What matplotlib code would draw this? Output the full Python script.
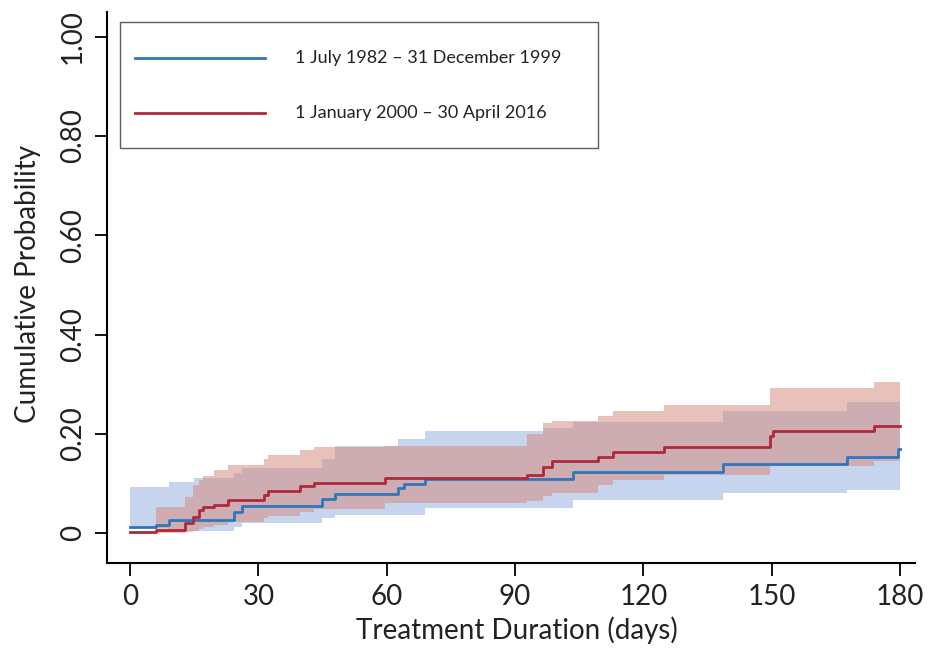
import numpy as np
import matplotlib
matplotlib.use("Agg")
import matplotlib.pyplot as plt
from matplotlib.lines import Line2D
from matplotlib.legend_handler import HandlerLine2D

plt.rcParams['font.family'] = ['Lato', 'DejaVu Sans']

# --- données ---
# période 1 : 1 July 1982 - 31 December 1999
blue_t = [0, 6, 9, 24.2, 26.1, 44.8, 47.9, 62.7, 64, 69, 103.6, 138.6, 167.5, 179.5, 180]
blue_y = [0.012, 0.016, 0.026, 0.043, 0.054, 0.068, 0.079, 0.09, 0.099, 0.109, 0.122, 0.139, 0.154, 0.169, 0.169]
blue_ci_t = [0, 9, 15, 24.2, 26.1, 44.8, 47.9, 62.7, 69, 96.6, 103.6, 138.6, 167.5, 180]
blue_lo = [0.011, 0.004, 0.005, 0.012, 0.02, 0.03, 0.036, 0.036, 0.05, 0.05, 0.067, 0.08, 0.087, 0.087]
blue_hi = [0.093, 0.103, 0.11, 0.12, 0.13, 0.15, 0.176, 0.19, 0.206, 0.212, 0.224, 0.245, 0.263, 0.263]

# période 2 : 1 January 2000 - 30 April 2016
red_t = [0, 6.1, 12.9, 14.8, 16.0, 17.1, 19.5, 23.0, 31.2, 32.3, 39.7, 42.9, 59.6, 92.7, 96.6,
         98.6, 109.5, 112.8, 124.9, 149.6, 150.4, 173.8, 180]
red_y = [0.002, 0.007, 0.020, 0.033, 0.046, 0.052, 0.056, 0.067, 0.077, 0.085, 0.095, 0.101, 0.110,
         0.117, 0.132, 0.146, 0.154, 0.164, 0.174, 0.196, 0.206, 0.216, 0.216]
red_ci_t = [6.1, 12.9, 14.8, 16.0, 17.1, 19.5, 23.0, 31.2, 32.3, 39.7, 42.9, 59.6, 92.7, 96.6,
            98.6, 109.5, 112.8, 124.9, 149.6, 173.8, 180]
red_lo = [0.0, 0.001, 0.004, 0.008, 0.012, 0.016, 0.022, 0.03, 0.035, 0.042, 0.048, 0.06, 0.065,
          0.075, 0.08, 0.097, 0.107, 0.117, 0.135, 0.145, 0.145]
red_hi = [0.053, 0.072, 0.097, 0.107, 0.114, 0.127, 0.137, 0.15, 0.157, 0.167, 0.174, 0.176, 0.2,
          0.221, 0.225, 0.235, 0.245, 0.258, 0.292, 0.305, 0.305]

labels = ["1 July 1982 \u2013 31 December 1999", "1 January 2000 \u2013 30 April 2016"]
x_ticks = [0, 30, 60, 90, 120, 150, 180]
y_ticks = [0, 0.2, 0.4, 0.6, 0.8, 1.0]
y_ticklabels = ["0", "0.20", "0.40", "0.60", "0.80", "1.00"]

c_blue = '#2f76bd'
c_red = '#b0283c'
txt = '#222222'


class LowerLine(HandlerLine2D):
    # descend un peu le trait de légende pour l'aligner sur le texte
    def create_artists(self, legend, orig_handle, xdescent, ydescent, width, height, fontsize, trans):
        artists = super().create_artists(legend, orig_handle, xdescent, ydescent,
                                         width, height, fontsize, trans)
        for a in artists:
            a.set_ydata(np.asarray(a.get_ydata()) - 0.44 * fontsize)
        return artists


fig = plt.figure(figsize=(9.29, 6.49), dpi=100)
ax = fig.add_axes([107/929, 86/649, 808/929, 551/649])

ax.fill_between(blue_ci_t, blue_lo, blue_hi, step='post', color='#91abdd', alpha=0.5, lw=0)
ax.fill_between(red_ci_t, red_lo, red_hi, step='post', color='#d38777', alpha=0.5, lw=0)
ax.step(blue_t, blue_y, where='post', color=c_blue, lw=2.0)
ax.step(red_t, red_y, where='post', color=c_red, lw=2.0)

ax.set_xlim(-5.4, 183.5)
ax.set_ylim(-0.0605, 1.05)
ax.spines['top'].set_visible(False)
ax.spines['right'].set_visible(False)
ax.spines['left'].set_linewidth(1.5)
ax.spines['bottom'].set_linewidth(1.5)

ax.set_xticks(x_ticks)
ax.set_xticklabels([str(v) for v in x_ticks])
ax.set_yticks(y_ticks)
ax.set_yticklabels(y_ticklabels, rotation=90, va='center')
ax.tick_params(direction='out', length=9, width=1.3, labelsize=20, colors='black', labelcolor=txt, pad=6)

fig.text(517/929, 1 - 630/649, "Treatment Duration (days)", ha='center', va='center', fontsize=20, color=txt)
fig.text(28/929, 1 - 284/649, "Cumulative Probability", ha='center', va='center', rotation=90, fontsize=20, color=txt)

handles = [Line2D([], [], color=c_blue, lw=2.0), Line2D([], [], color=c_red, lw=2.0)]
leg = ax.legend(handles, labels, loc='upper left', bbox_to_anchor=(0.016, 0.5, 0.5916, 0.482),
                mode='expand', fontsize=13, frameon=True, fancybox=False, handlelength=7.2,
                handleheight=3.07, handletextpad=1.65, borderpad=0.85, labelspacing=0.81,
                borderaxespad=0, handler_map={Line2D: LowerLine()})
leg.get_frame().set_edgecolor('#333333')
leg.get_frame().set_linewidth(1.0)
for t in leg.get_texts():
    t.set_color(txt)

fig.savefig("out.png", dpi=100)
